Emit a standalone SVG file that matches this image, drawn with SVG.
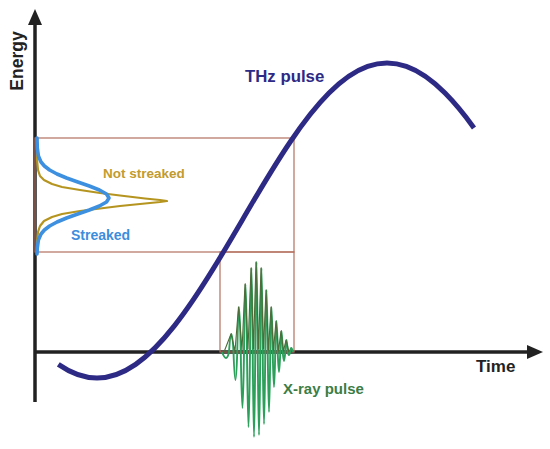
<svg xmlns="http://www.w3.org/2000/svg" width="550" height="449" viewBox="0 0 550 449">
<style>
.axis{stroke:#222;stroke-width:3.5;fill:none}
.head{fill:#222}
.box{fill:none;stroke:#b4705e;stroke-width:1.2}
.lbl{font-family:"Liberation Sans",Arial,sans-serif;font-weight:bold}
</style>
<rect width="550" height="449" fill="#fff"/>
<g id="axes">
<line class="axis" x1="35" y1="402" x2="35" y2="22"/>
<polygon class="head" points="35,9 42,25 28,25"/>
<line class="axis" x1="35" y1="352" x2="530" y2="352"/>
<polygon class="head" points="543,352 527,345 527,359"/>
<text class="lbl" x="476" y="372" font-size="17" fill="#222">Time</text>
<text class="lbl" transform="translate(23,61) rotate(-90)" text-anchor="middle" font-size="17.5" fill="#222">Energy</text>
</g>
<g id="projection-boxes">
<rect class="box" x="35" y="138" width="259" height="114"/>
<rect class="box" x="220" y="252" width="74" height="100"/>
</g>
<g id="spectra">
<polyline fill="none" stroke="#b5951f" stroke-width="2.2" stroke-linejoin="round" points="37,138 37,160 38,170 40,176 44,180 52,184 62,187 80,190 100,193 120,195.5 145,198.5 160,200 167,201 160,202 145,203.5 120,206 100,208.5 80,211 62,214 52,217 44,221 40,226 38,232 37,242 37,252"/>
<polyline fill="none" stroke="#3d8fe0" stroke-width="3.6" stroke-linejoin="round" stroke-linecap="round" points="37,138 37.3,148 38.4,156 41,162 44.4,166 49.6,170 57,174 66.6,178 77.8,182 89.3,186 99.4,190 106.5,194 109,198 106.5,202 99.4,206 89.3,210 77.8,214 66.6,218 57,222 49.6,226 44.4,230 41,234 38.4,240 37.3,248 37,254"/>
<text class="lbl" x="103" y="178" font-size="13.5" fill="#c39b2e">Not streaked</text>
<text class="lbl" x="71" y="240" font-size="14" fill="#3c8ddc">Streaked</text>
</g>
<g id="thz-pulse">
<path fill="none" stroke="#2d2a85" stroke-width="5" stroke-linecap="butt" d="M58.33,364.38 C71.22,373.33 84.11,378 97,378 C109.89,378 122.78,373.33 135.67,364.38 C148.56,355.43 161.44,342.23 174.33,325.89 C187.22,309.55 200.11,290.09 213,269.17 C225.89,248.25 238.78,225.91 251.67,204.04 C264.56,182.17 277.44,160.8 290.33,141.75 C303.22,122.7 316.11,106.01 329,93.08 C341.89,80.15 354.78,71.02 367.67,66.44 C380.56,61.86 393.44,61.86 406.33,66.44 C419.22,71.02 432.11,80.15 445,93.08 C454.67,102.78 464.33,114.58 474,127.92"/>
<text class="lbl" x="245" y="82" font-size="16.8" fill="#2d2a85">THz pulse</text>
</g>
<g id="xray-pulse">
<path fill="none" stroke="#2ca05a" stroke-width="1.9" d="M222,352 Q226.5,364 229,352 Q231.5,316 233.5,352 Q235.5,408 237.25,352 Q239,262 240.75,352 Q242.5,464 244,352 Q245.5,216 247,352 Q248.5,502 250,352 Q251.5,184 252.75,352 Q254,522 255.25,352 Q256.5,172 257.75,352 Q259,518 260.25,352 Q261.5,184 262.75,352 Q264,496 265.25,352 Q266.5,228 267.75,352 Q269,472 270.25,352 Q271.5,262 272.75,352 Q274,422 275.25,352 Q276.5,290 277.75,352 Q279,392 280.25,352 Q281.5,310 282.75,352 Q284,370 285.25,352 Q286.5,328 287.75,352 Q289,358 290,352 Q291,344 293,352"/>
<polyline fill="none" stroke="#4f6b3a" stroke-width="1.1" stroke-linejoin="round" points="224,352 231,334 235,351 238.5,307 242,350 245,284 248,349 251,268 253.5,349 256,262 258.5,349 261,268 263.5,349 266,290 268.5,350 271,307 273.5,350 276,321 278.5,351 281,331 283.5,351 286,340 289,352"/>
<text class="lbl" x="283" y="394" font-size="15" fill="#3b7d46">X-ray pulse</text>
</g>
</svg>
